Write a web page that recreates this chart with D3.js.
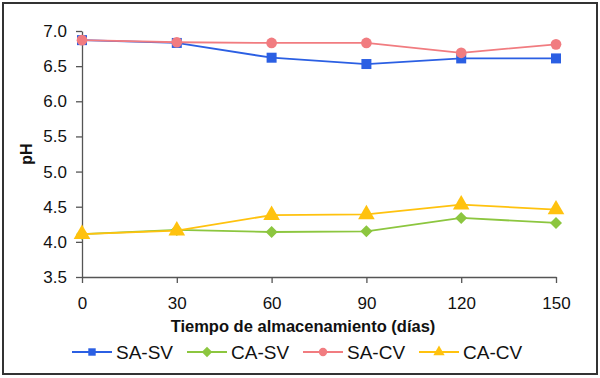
<!DOCTYPE html>
<html><head><meta charset="utf-8">
<script src="https://cdn.jsdelivr.net/npm/d3@7"></script>
<style>body{margin:0;background:#fff}svg{display:block;font-family:"Liberation Sans",Arial,sans-serif}</style>
</head><body><svg id="c" width="600" height="378"></svg>
<script>
const days = [0, 30, 60, 90, 120, 150];
const saSv = [6.87, 6.83, 6.62, 6.53, 6.61, 6.61];
const caSv = [4.11, 4.17, 4.14, 4.15, 4.34, 4.27];
const saCv = [6.87, 6.84, 6.83, 6.83, 6.69, 6.81];
const caCv = [4.11, 4.16, 4.38, 4.39, 4.53, 4.46];
const yTicks = [3.5, 4.0, 4.5, 5.0, 5.5, 6.0, 6.5, 7.0];
const seriesNames = ["SA-SV", "CA-SV", "SA-CV", "CA-CV"];
const seriesColors = ["#2b5fe3", "#8cc63f", "#f17c80", "#ffc20e"];
const seriesShapes = [d3.symbolSquare, d3.symbolSquare, d3.symbolCircle, d3.symbolTriangle];
const seriesRot = [0, 45, 0, 0];
const seriesValues = [saSv, caSv, saCv, caCv];

const svg = d3.select("#c");
svg.append("rect").attr("x",3).attr("y",3).attr("width",594).attr("height",371)
  .attr("fill","#fff").attr("stroke","#333").attr("stroke-width",2);

const x = d3.scaleLinear().domain([0,150]).range([82,556]);
const y = d3.scaleLinear().domain([3.5,7.0]).range([277,31]);

const xa = svg.append("g").attr("transform","translate(0,277)")
  .call(d3.axisBottom(x).tickValues(days).tickSize(6).tickSizeOuter(0).tickPadding(14));
const ya = svg.append("g").attr("transform","translate(82,0)")
  .call(d3.axisLeft(y).tickValues(yTicks).tickFormat(d3.format(".1f")).tickSize(6).tickSizeOuter(0).tickPadding(9));
[xa,ya].forEach(a=>{
  a.selectAll("path").attr("stroke","#555").attr("stroke-width",1.3);
  a.selectAll("line").attr("stroke","#555").attr("stroke-width",1.3);
  a.selectAll("text").attr("font-size",17).attr("fill","#111").attr("font-family","Liberation Sans, Arial, sans-serif");
});

svg.append("text").attr("x",303).attr("y",332).attr("text-anchor","middle")
  .attr("font-size",16.5).attr("font-weight","bold").attr("fill","#111").text("Tiempo de almacenamiento (días)");
svg.append("text").attr("transform","translate(32,154) rotate(-90)").attr("text-anchor","middle")
  .attr("font-size",16).attr("font-weight","bold").attr("fill","#111").text("pH");

const line = d3.line().x((d,i)=>x(days[i])).y(d=>y(d));
const sizes = [100, 72, 90, 120];
[0,1,2,3].forEach(k=>{
  svg.append("path").datum(seriesValues[k]).attr("d",line).attr("fill","none")
    .attr("stroke",seriesColors[k]).attr("stroke-width",1.8);
  svg.append("g").selectAll("path").data(seriesValues[k]).join("path")
    .attr("transform",(d,i)=>`translate(${x(days[i])},${y(d)}) rotate(${seriesRot[k]})`)
    .attr("d",d3.symbol().type(seriesShapes[k]).size(sizes[k])).attr("fill",seriesColors[k]);
});

const legX = [72, 187, 303, 419];
seriesNames.forEach((n,k)=>{
  const g = svg.append("g").attr("transform",`translate(${legX[k]},352)`);
  g.append("line").attr("x1",0).attr("x2",40).attr("stroke",seriesColors[k]).attr("stroke-width",1.8);
  g.append("path").attr("transform",`translate(20,0) rotate(${seriesRot[k]})`).attr("d",d3.symbol().type(seriesShapes[k]).size(55)).attr("fill",seriesColors[k]);
  g.append("text").attr("x",44).attr("y",7).attr("font-size",19).attr("fill","#111").text(n);
});
</script></body></html>
